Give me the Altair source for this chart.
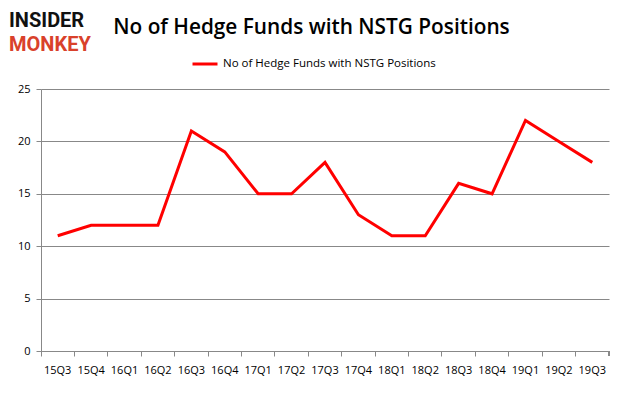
import altair as alt
import pandas as pd

quarters = ["15Q3", "15Q4", "16Q1", "16Q2", "16Q3", "16Q4", "17Q1", "17Q2", "17Q3",
            "17Q4", "18Q1", "18Q2", "18Q3", "18Q4", "19Q1", "19Q2", "19Q3"]
funds = [11, 12, 12, 12, 21, 19, 15, 15, 18, 13, 11, 11, 16, 15, 22, 20, 18]
series_name = "No of Hedge Funds with NSTG Positions"

df = pd.DataFrame({"quarter": quarters, "funds": funds, "series": series_name})

W, H = 568, 262
FONT = "Open Sans"

x_enc = alt.X("quarter:N", sort=quarters, title=None,
              scale=alt.Scale(type="band", paddingInner=0, paddingOuter=0),
              axis=alt.Axis(labelAngle=0, bandPosition=0, ticks=True, tickSize=5,
                            tickColor="#888888", domainColor="#888888",
                            labelColor="#000000", labelFontSize=11, labelFont=FONT,
                            labelPadding=8, grid=False))

line = alt.Chart(df).mark_line(strokeWidth=3, color="#ff0000").encode(
    x=x_enc,
    y=alt.Y("funds:Q", title=None,
            scale=alt.Scale(domain=[0, 25]),
            axis=alt.Axis(values=[0, 5, 10, 15, 20, 25], tickSize=5,
                          tickColor="#888888", domainColor="#888888",
                          gridColor="#888888", labelColor="#000000",
                          labelFontSize=11, labelFont=FONT, labelPadding=6)),
    color=alt.Color("series:N", scale=alt.Scale(range=["#ff0000"]),
                    legend=alt.Legend(title=None, orient="none", legendX=150, legendY=-39,
                                      symbolType="stroke", symbolStrokeWidth=3,
                                      symbolSize=625, labelFontSize=11.5, labelFont=FONT,
                                      labelLimit=0, labelColor="#000000")),
)

end_tick = alt.Chart(df).mark_rule(color="#888888").encode(
    x=alt.value(W), x2=alt.value(W), y=alt.value(H), y2=alt.value(H + 5))

one = pd.DataFrame({"a": [1]})
title = alt.Chart(one).mark_text(text="No of Hedge Funds with NSTG Positions",
                                 font=FONT, fontSize=20.8, fontWeight=600,
                                 align="center", baseline="alphabetic", color="#000000").encode(
    x=alt.value(270.5), y=alt.value(-55))
logo1 = alt.Chart(one).mark_text(text="INSIDER", font="Roboto", fontSize=20,
                                 fontWeight="bold", align="left", baseline="alphabetic",
                                 color="#111111").encode(x=alt.value(-32), y=alt.value(-62))
logo2 = alt.Chart(one).mark_text(text="MONKEY", font="Roboto", fontSize=20,
                                 fontWeight="bold", align="left", baseline="alphabetic",
                                 color="#d9412b").encode(x=alt.value(-32), y=alt.value(-38))

chart = alt.layer(line, end_tick, title, logo1, logo2).properties(
    width=W, height=H,
    autosize=alt.AutoSizeParams(type="none"),
    padding={"left": 33, "top": 81, "right": 9, "bottom": 38},
).configure_view(stroke=None)

chart.save("out.html", embed_options={"renderer": "svg", "actions": False})
